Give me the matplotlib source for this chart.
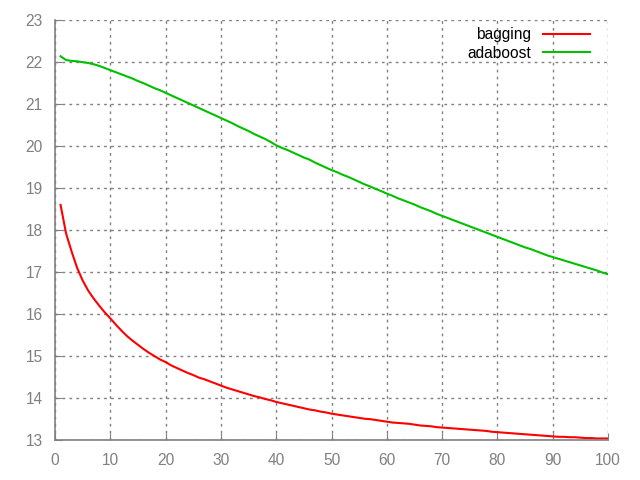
import matplotlib
matplotlib.use('Agg')
import matplotlib.pyplot as plt

# number of estimators 1..100
n_estimators = list(range(1, 101))

bagging = [
    18.60, 17.92, 17.49, 17.10, 16.80, 16.56, 16.37, 16.20, 16.04, 15.90,
    15.75, 15.61, 15.48, 15.37, 15.27, 15.17, 15.08, 15.00, 14.92, 14.86,
    14.78, 14.72, 14.66, 14.60, 14.55, 14.49, 14.45, 14.40, 14.35, 14.30,
    14.25, 14.21, 14.17, 14.13, 14.09, 14.05, 14.02, 13.98, 13.95, 13.91,
    13.88, 13.85, 13.82, 13.79, 13.76, 13.73, 13.71, 13.68, 13.66, 13.63,
    13.61, 13.59, 13.57, 13.55, 13.53, 13.51, 13.50, 13.48, 13.46, 13.44,
    13.42, 13.41, 13.40, 13.39, 13.37, 13.35, 13.34, 13.33, 13.31, 13.30,
    13.29, 13.28, 13.27, 13.26, 13.25, 13.24, 13.23, 13.22, 13.20, 13.19,
    13.18, 13.17, 13.16, 13.15, 13.14, 13.13, 13.12, 13.11, 13.10, 13.09,
    13.08, 13.08, 13.07, 13.07, 13.06, 13.05, 13.05, 13.04, 13.04, 13.04,
]

adaboost = [
    22.14, 22.05, 22.03, 22.02, 22.00, 21.98, 21.95, 21.91, 21.86, 21.81,
    21.76, 21.71, 21.66, 21.61, 21.55, 21.50, 21.44, 21.38, 21.33, 21.27,
    21.21, 21.15, 21.09, 21.03, 20.97, 20.91, 20.85, 20.79, 20.73, 20.67,
    20.61, 20.55, 20.48, 20.42, 20.36, 20.29, 20.23, 20.17, 20.10, 20.02,
    19.96, 19.91, 19.85, 19.79, 19.73, 19.68, 19.61, 19.55, 19.49, 19.43,
    19.38, 19.32, 19.27, 19.21, 19.15, 19.09, 19.04, 18.98, 18.93, 18.87,
    18.82, 18.76, 18.71, 18.66, 18.61, 18.55, 18.50, 18.45, 18.39, 18.34,
    18.29, 18.24, 18.19, 18.14, 18.09, 18.04, 17.99, 17.94, 17.89, 17.84,
    17.79, 17.74, 17.69, 17.64, 17.59, 17.55, 17.50, 17.45, 17.40, 17.36,
    17.32, 17.28, 17.24, 17.20, 17.16, 17.12, 17.08, 17.04, 16.99, 16.95,
]

plt.rcParams['font.family'] = ['Liberation Sans', 'DejaVu Sans']

fig = plt.figure(figsize=(6.4, 4.8), dpi=100)
ax = fig.add_axes([0.086, 0.083, 0.864, 0.875])

ax.plot(n_estimators, bagging, color='#ff0000', lw=1.5, label='bagging')
ax.plot(n_estimators, adaboost, color='#00c000', lw=1.5, label='adaboost')

ax.set_xlim(0, 100)
ax.set_ylim(13, 23)
ax.set_xticks(range(0, 101, 10))
ax.set_yticks(range(13, 24))

# gnuplot look: gray border on left/bottom, dotted grid
for side in ['top', 'right']:
    ax.spines[side].set_visible(False)
for side in ['left', 'bottom']:
    ax.spines[side].set_color('#808080')
    ax.spines[side].set_linewidth(1.2)
ax.grid(True, color='#808080', linestyle=(0, (2, 3)), linewidth=1)
ax.tick_params(direction='in', length=5, color='#808080', labelcolor='#808080', labelsize=11.2)
ax.tick_params(axis='y', pad=9)
ax.tick_params(axis='x', pad=9)

ax.legend(loc='upper right', bbox_to_anchor=(0.993, 1.016), frameon=False, markerfirst=False,
          fontsize=11.2, handlelength=3.0, handletextpad=0.8, labelspacing=0.2)

fig.savefig('out.png', dpi=100)
